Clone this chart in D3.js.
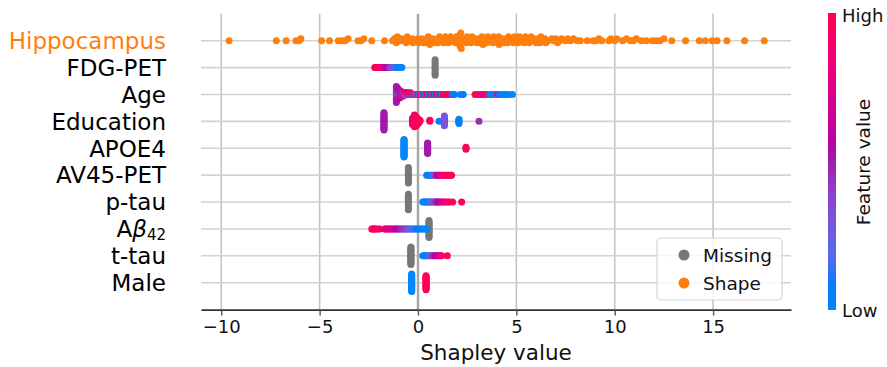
<!DOCTYPE html>
<html>
<head>
<meta charset="utf-8">
<script src="https://cdn.jsdelivr.net/npm/d3@7"></script>
<style>
  body { margin: 0; background: #fff; }
  svg text { font-family: "DejaVu Sans", sans-serif; }
</style>
</head>
<body>
<div id="chart"></div>
<script>
// feature rows, top to bottom
const features = ["Hippocampus", "FDG-PET", "Age", "Education", "APOE4", "AV45-PET", "p-tau", "Aβ42", "t-tau", "Male"];
const xTicks = [-10, -5, 0, 5, 10, 15];
const legendLabels = ["Missing", "Shape"];

// Shapley values per feature (feature value 0..1 in the *Feat arrays, null = missing)
const hippocampusShap = [
  -9.6, -7.2, -6.7, -6.2, -6.05, -5.95, -4.9, -4.5, -4.05, -3.85, -3.7, -3.55, -3.05, -2.9, -2.75, -2.35, -1.7,
  -1.3, -1.2, -1.1, -1.05, -0.9, -0.85, -0.7, -0.62, -0.6, -0.55, -0.4, -0.3, -0.25, -0.1, 0.0, 0.05, 0.15, 0.2,
  0.3, 0.35, 0.45, 0.5, 0.52, 0.6, 0.7, 0.75, 0.85, 0.9, 1.0, 1.02, 1.1, 1.15, 1.25, 1.3, 1.4, 1.45, 1.5, 1.55,
  1.65, 1.7, 1.8, 1.9, 1.95, 2.0, 2.02, 2.05, 2.08, 2.1, 2.12, 2.15, 2.18, 2.2, 2.3, 2.35, 2.45, 2.5, 2.55, 2.6,
  2.7, 2.75, 2.85, 2.9, 3.0, 3.05, 3.1, 3.15, 3.25, 3.3, 3.4, 3.45, 3.5, 3.55, 3.65, 3.7, 3.8, 3.85, 3.9, 3.95,
  4.05, 4.1, 4.12, 4.2, 4.3, 4.35, 4.45, 4.5, 4.55, 4.6, 4.7, 4.75, 4.85, 4.9, 5.0, 5.05, 5.1, 5.15, 5.25, 5.35,
  5.4, 5.45, 5.5, 5.6, 5.65, 5.75, 5.8, 5.9, 6.0, 6.05, 6.1, 6.2, 6.25, 6.35, 6.45, 6.5, 6.6, 6.8, 6.9, 7.0,
  7.1, 7.2, 7.3, 7.5, 7.6, 7.75, 7.9, 8.1, 8.25, 8.6, 8.9, 9.05, 9.2, 9.35, 9.7, 9.8, 10.0, 10.1, 10.4, 10.6,
  10.8, 10.95, 11.1, 11.35, 11.6, 11.9, 12.1, 12.3, 12.5, 12.9, 13.6, 14.3, 14.6, 14.95, 15.2, 15.7, 16.6, 17.6
];

const fdgShap = [0.87, 0.87, 0.87, 0.87, 0.87, 0.87, 0.87, 0.87, 0.87,
  -2.2, -2.15, -2.1, -2.05, -2.0, -1.95, -1.9, -1.85, -1.8, -1.75, -1.7, -1.65, -1.6, -1.55, -1.5, -1.45,
  -1.4, -1.35, -1.3, -1.25, -1.2, -1.15, -1.1, -1.05, -1.0, -0.9, -0.82];
const fdgFeat = [null, null, null, null, null, null, null, null, null,
  1.0, 0.98, 0.95, 0.97, 0.93, 0.9, 0.92, 0.85, 0.8, 0.78, 0.7, 0.65, 0.6, 0.55, 0.5, 0.45,
  0.4, 0.35, 0.3, 0.28, 0.25, 0.2, 0.15, 0.1, 0.05, 0.03, 0.0];

const ageShap = [
  -1.1, -1.1, -1.1, -1.1, -1.1, -1.1, -1.1, -1.1, -1.1, -1.1, -1.1,
  -1.04, -1.04, -1.04, -1.04, -1.04, -1.04, -1.04, -1.04,
  -0.98, -0.98, -0.98, -0.98, -0.98, -0.98,
  -0.92, -0.92, -0.92, -0.92, -0.92,
  -0.86, -0.86, -0.86, -0.86, -0.8, -0.8, -0.8, -0.74, -0.74, -0.74,
  -0.68, -0.68, -0.62, -0.62, -0.56, -0.56, -0.5, -0.5, -0.44, -0.38, -0.38,
  -0.3, -0.22, -0.15, -0.08, 0.0, 0.08, 0.15, 0.22, 0.3, 0.38, 0.45, 0.55, 0.62, 0.7, 0.8, 0.88, 0.95,
  1.05, 1.12, 1.2, 1.3, 1.4, 1.5, 1.6, 1.75, 1.85, 2.15, 2.3, 2.9, 3.05, 3.2, 3.35, 3.5, 3.65, 3.75,
  3.9, 4.05, 4.15, 4.3, 4.45, 4.6, 4.8];
const ageFeat = [
  0.38, 0.42, 0.36, 0.45, 0.4, 0.5, 0.48, 0.52, 0.5, 0.5, 0.5,
  0.38, 0.35, 0.42, 0.45, 0.5, 0.48, 0.52, 0.5,
  0.35, 0.4, 0.45, 0.5, 0.48, 0.55,
  0.35, 0.42, 0.48, 0.5, 0.6,
  0.4, 0.45, 0.7, 0.5, 0.35, 0.8, 0.48, 0.3, 0.45, 0.9,
  0.35, 0.85, 0.3, 0.95, 0.2, 0.75, 0.4, 1.0, 0.9, 0.15, 0.85,
  0.95, 0.1, 0.9, 0.2, 0.85, 0.05, 1.0, 0.15, 0.9, 0.1, 0.95, 0.05, 0.88, 0.1, 0.95, 0.08, 0.98,
  0.1, 0.9, 0.05, 0.95, 0.98, 1.0, 0.92, 0.05, 0.08, 0.03, 0.05, 1.0, 0.97, 0.9, 0.75, 1.0, 0.05, 0.02,
  0.1, 0.85, 0.05, 0.03, 0.08, 0.02, 0.0];

const educationShap = [
  -1.73, -1.73, -1.73, -1.73, -1.73, -1.73, -1.73, -1.73, -1.73, -1.73, -1.73, -1.73, -1.73, -1.73, -1.73, -1.73, -1.73,
  -0.28, -0.28, -0.28, -0.28, -0.28, -0.28, -0.28,
  -0.18, -0.18, -0.18, -0.18, -0.18, -0.18, -0.18, -0.18, -0.18, -0.18, -0.18, -0.18,
  -0.08, -0.08, -0.08, -0.08, -0.08, -0.08, -0.08, -0.08, -0.08,
  0.02, 0.02, 0.02, 0.02, 0.02, 0.1, 0.1,
  0.6, 0.6, 1.07,
  1.34, 1.34, 1.34, 1.34, 1.34, 1.34, 1.34, 1.34, 1.34, 1.34,
  2.08, 2.08, 2.08, 2.08, 2.08, 3.1];
const educationFeat = [
  0.5, 0.5, 0.5, 0.5, 0.5, 0.5, 0.5, 0.5, 0.5, 0.5, 0.5, 0.5, 0.5, 0.5, 0.5, 0.5, 0.5,
  0.8, 0.85, 0.8, 0.82, 0.85, 0.8, 0.85,
  0.9, 1.0, 0.85, 1.0, 0.9, 1.0, 0.85, 1.0, 0.95, 0.8, 1.0, 0.85,
  1.0, 1.0, 0.95, 1.0, 1.0, 0.9, 1.0, 1.0, 1.0,
  1.0, 1.0, 1.0, 1.0, 1.0, 1.0, 1.0,
  1.0, 1.0, 0.1,
  0.3, 0.3, 0.3, 0.3, 0.3, 0.3, 0.3, 0.3, 0.3, 0.3,
  0.05, 0.05, 0.05, 0.05, 0.05, 0.45];

const apoe4Shap = [
  -0.71, -0.71, -0.71, -0.71, -0.71, -0.71, -0.71, -0.71, -0.71, -0.71, -0.71,
  -0.71, -0.71, -0.71, -0.71, -0.71, -0.71, -0.71, -0.71, -0.71, -0.71,
  0.49, 0.49, 0.49, 0.49, 0.49, 0.49, 0.49, 0.49, 0.49, 0.49, 0.49, 0.49, 0.49,
  2.44, 2.44, 2.44];
const apoe4Feat = [
  0, 0, 0, 0, 0, 0, 0, 0, 0, 0, 0, 0, 0, 0, 0, 0, 0, 0, 0, 0, 0,
  0.5, 0.5, 0.5, 0.5, 0.5, 0.5, 0.5, 0.5, 0.5, 0.5, 0.5, 0.5, 0.5,
  1, 1, 1];

const av45Shap = [-0.49, -0.49, -0.49, -0.49, -0.49, -0.49, -0.49, -0.49, -0.49,
  0.44, 0.5, 0.56, 0.62, 0.68, 0.74, 0.8, 0.86, 0.92, 0.98, 1.04, 1.1, 1.16, 1.22, 1.28, 1.34, 1.4, 1.46,
  1.52, 1.58, 1.66, 1.71];
const av45Feat = [null, null, null, null, null, null, null, null, null,
  0.0, 0.05, 0.02, 0.1, 0.08, 0.15, 0.25, 0.35, 0.45, 0.55, 0.6, 0.7, 0.8, 0.85, 0.9, 0.95, 0.92, 1.0,
  0.97, 1.0, 0.95, 1.0];

const ptauShap = [-0.49, -0.49, -0.49, -0.49, -0.49, -0.49, -0.49, -0.49, -0.49,
  0.24, 0.3, 0.36, 0.42, 0.48, 0.54, 0.6, 0.66, 0.72, 0.78, 0.84, 0.9, 0.96, 1.02, 1.08, 1.16, 1.24, 1.32,
  1.42, 1.52, 1.6, 1.76, 2.22];
const ptauFeat = [null, null, null, null, null, null, null, null, null,
  0.0, 0.02, 0.05, 0.03, 0.08, 0.1, 0.12, 0.15, 0.2, 0.28, 0.35, 0.42, 0.5, 0.55, 0.6, 0.65, 0.72, 0.8,
  0.85, 0.9, 0.88, 1.0, 1.0];

const abetaShap = [0.56, 0.56, 0.56, 0.56, 0.56, 0.56, 0.56, 0.56, 0.56, 0.56, 0.56, 0.56, 0.56, 0.56, 0.56,
  -2.35, -2.3, -2.25, -2.2, -2.15, -2.05, -1.95, -1.7, -1.64, -1.58, -1.52, -1.45, -1.38, -1.3, -1.22, -1.15,
  -1.08, -1.0, -0.92, -0.85, -0.78, -0.72, -0.65, -0.58, -0.52, -0.45, -0.38, -0.3, -0.22, -0.15, -0.08,
  0.0, 0.08, 0.15, 0.22, 0.3, 0.38, 0.45];
const abetaFeat = [null, null, null, null, null, null, null, null, null, null, null, null, null, null, null,
  1.0, 0.98, 1.0, 0.95, 0.97, 0.95, 0.92, 0.85, 0.82, 0.8, 0.78, 0.8, 0.75, 0.72, 0.7, 0.68,
  0.62, 0.55, 0.5, 0.48, 0.45, 0.42, 0.4, 0.35, 0.32, 0.28, 0.25, 0.2, 0.15, 0.12, 0.1,
  0.08, 0.05, 0.03, 0.02, 0.0, 0.0, 0.01];

const ttauShap = [-0.36, -0.36, -0.36, -0.36, -0.36, -0.36, -0.36, -0.36, -0.36, -0.36,
  -0.36, -0.36, -0.36, -0.36, -0.36, -0.36, -0.36, -0.36, -0.36,
  0.24, 0.3, 0.36, 0.42, 0.48, 0.54, 0.6, 0.66, 0.72, 0.78, 0.84, 0.9, 0.96, 1.02, 1.08, 1.14, 1.2, 1.49];
const ttauFeat = [null, null, null, null, null, null, null, null, null, null,
  null, null, null, null, null, null, null, null, null,
  0.0, 0.03, 0.05, 0.08, 0.1, 0.15, 0.22, 0.3, 0.38, 0.45, 0.5, 0.55, 0.6, 0.65, 0.75, 0.8, 0.85, 1.0];

const maleShap = [
  -0.32, -0.32, -0.32, -0.32, -0.32, -0.32, -0.32, -0.32, -0.32, -0.32, -0.32,
  -0.32, -0.32, -0.32, -0.32, -0.32, -0.32, -0.32, -0.32, -0.32, -0.32,
  0.41, 0.41, 0.41, 0.41, 0.41, 0.41, 0.41, 0.41, 0.41, 0.41, 0.41, 0.41, 0.41, 0.41, 0.41, 0.41, 0.41];
const maleFeat = [
  0, 0, 0, 0, 0, 0, 0, 0, 0, 0, 0, 0, 0, 0, 0, 0, 0, 0, 0, 0, 0,
  1, 1, 1, 1, 1, 1, 1, 1, 1, 1, 1, 1, 1, 1, 1, 1, 1];

const rows = [
  { shap: hippocampusShap, feat: null },
  { shap: fdgShap, feat: fdgFeat },
  { shap: ageShap, feat: ageFeat },
  { shap: educationShap, feat: educationFeat },
  { shap: apoe4Shap, feat: apoe4Feat },
  { shap: av45Shap, feat: av45Feat },
  { shap: ptauShap, feat: ptauFeat },
  { shap: abetaShap, feat: abetaFeat },
  { shap: ttauShap, feat: ttauFeat },
  { shap: maleShap, feat: maleFeat }
];

const width = 887, height = 367;
const shapeColor = '#ff7f0e', missingColor = '#777777';

// shap's red_blue map, interpolated in Lch
function redBlue(t) {
  const l = t < 0.5 ? 54 + (40 - 54) * (t / 0.5) : 40 + (54 - 40) * ((t - 0.5) / 0.5);
  const c = 70 + 20 * t;
  const h = 266.93 + (380.32 - 266.93) * t;
  return d3.hcl(h % 360, c, l).formatHex();
}

// beeswarm offsets, same binning as shap's summary plot
function swarm(values) {
  const mn = d3.min(values), mx = d3.max(values);
  const quant = values.map(v => Math.round(100 * (v - mn) / (mx - mn + 1e-8)));
  const inds = d3.range(values.length).sort((a, b) => quant[a] - quant[b] || a - b);
  const ys = new Array(values.length).fill(0);
  let layer = 0, last = -1;
  for (const i of inds) {
    if (quant[i] !== last) layer = 0;
    ys[i] = Math.ceil(layer / 2) * ((layer % 2) * 2 - 1);
    layer++;
    last = quant[i];
  }
  const f = 0.9 * 0.4 / (d3.max(ys) + 1);
  return ys.map(y => y * f);
}

const svg = d3.select('#chart').append('svg')
  .attr('width', width).attr('height', height);

const x = d3.scaleLinear().domain([-11.03, 18.96]).range([201, 791]);
const y = d3.scaleLinear().domain([-1, features.length]).range([309.6, 13.8]);
const rowPos = i => features.length - 1 - i;

// grid
svg.append('g').selectAll('line.vgrid')
  .data(xTicks.filter(t => t !== 0))
  .enter().append('line')
  .attr('x1', d => x(d)).attr('x2', d => x(d))
  .attr('y1', y(features.length)).attr('y2', y(-1))
  .attr('stroke', '#c4c4c4').attr('stroke-width', 1.6);

svg.append('g').selectAll('line.hgrid')
  .data(features)
  .enter().append('line')
  .attr('x1', x.range()[0]).attr('x2', x.range()[1])
  .attr('y1', (d, i) => y(rowPos(i))).attr('y2', (d, i) => y(rowPos(i)))
  .attr('stroke', '#d2d2d2').attr('stroke-width', 1.6);

svg.append('line')
  .attr('x1', x(0)).attr('x2', x(0))
  .attr('y1', y(features.length)).attr('y2', y(-1))
  .attr('stroke', '#a6a6a6').attr('stroke-width', 2.4);

// points
const dots = svg.append('g');
rows.forEach((row, i) => {
  const offs = swarm(row.shap);
  const pts = row.shap.map((v, j) => ({
    v, off: offs[j], f: row.feat ? row.feat[j] : undefined
  }));
  const ordered = pts.filter(p => p.f === null).concat(pts.filter(p => p.f !== null));
  dots.selectAll(null)
    .data(ordered)
    .enter().append('circle')
    .attr('cx', d => x(d.v))
    .attr('cy', d => y(rowPos(i) + d.off))
    .attr('r', 3.5)
    .attr('fill', d => d.f === undefined ? shapeColor : (d.f === null ? missingColor : redBlue(d.f)));
});

// feature labels
const labels = svg.append('g');
features.forEach((name, i) => {
  const t = labels.append('text')
    .attr('x', 166).attr('y', y(rowPos(i)) + 8.3)
    .attr('text-anchor', 'end')
    .attr('font-size', 23)
    .attr('fill', i === 0 ? shapeColor : '#000');
  if (name === 'Aβ42') {
    t.append('tspan').text('A');
    t.append('tspan').attr('font-style', 'italic').text('β');
    t.append('tspan').attr('font-size', 15).attr('dy', 3).text('42');
  } else {
    t.text(name);
  }
});

// x axis
const axis = svg.append('g')
  .attr('transform', `translate(0,${y(-1)})`)
  .call(d3.axisBottom(x).tickValues(xTicks).tickSize(6).tickSizeOuter(0).tickPadding(5));
axis.select('.domain').attr('stroke', '#333').attr('stroke-width', 1.6);
axis.selectAll('.tick line').attr('stroke', '#555').attr('stroke-width', 1.4);
axis.selectAll('.tick text')
  .attr('font-family', '"DejaVu Sans", sans-serif')
  .attr('font-size', 18).attr('fill', '#111');

svg.append('text')
  .attr('x', (x.range()[0] + x.range()[1]) / 2).attr('y', 360)
  .attr('text-anchor', 'middle').attr('font-size', 21.5).attr('fill', '#111')
  .text('Shapley value');

// legend
const lg = svg.append('g');
lg.append('rect')
  .attr('x', 657).attr('y', 238).attr('width', 125).attr('height', 62)
  .attr('rx', 4).attr('fill', 'rgba(255,255,255,0.8)')
  .attr('stroke', '#d6d6d6').attr('stroke-width', 1.2);
lg.selectAll('circle')
  .data(legendLabels)
  .enter().append('circle')
  .attr('cx', 684).attr('cy', (d, i) => 255 + i * 28)
  .attr('r', 5.5)
  .attr('fill', (d, i) => i === 0 ? missingColor : shapeColor);
lg.selectAll('text')
  .data(legendLabels)
  .enter().append('text')
  .attr('x', 703).attr('y', (d, i) => 255 + i * 28 + 6.5)
  .attr('font-size', 18.5).attr('fill', '#111')
  .text(d => d);

// colour bar
const grad = svg.append('defs').append('linearGradient')
  .attr('id', 'cbar').attr('x1', 0).attr('y1', 1).attr('x2', 0).attr('y2', 0);
grad.selectAll('stop')
  .data(d3.range(0, 1.0001, 0.05))
  .enter().append('stop')
  .attr('offset', d => d)
  .attr('stop-color', d => redBlue(d));
svg.append('rect')
  .attr('x', 828).attr('y', 13).attr('width', 8).attr('height', 297)
  .attr('fill', 'url(#cbar)');
svg.append('text').attr('x', 842).attr('y', 21.5)
  .attr('font-size', 18).attr('fill', '#111').text('High');
svg.append('text').attr('x', 842).attr('y', 316.5)
  .attr('font-size', 18).attr('fill', '#111').text('Low');
svg.append('text')
  .attr('transform', 'translate(870,162) rotate(-90)')
  .attr('text-anchor', 'middle').attr('font-size', 18.5).attr('fill', '#111')
  .text('Feature value');
</script>
</body>
</html>
